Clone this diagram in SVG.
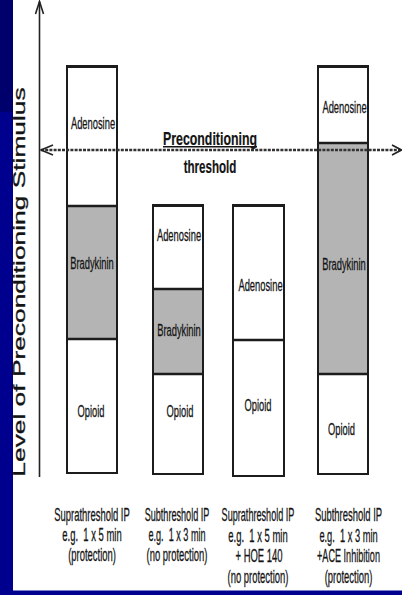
<svg xmlns="http://www.w3.org/2000/svg" width="402" height="595" viewBox="0 0 402 595">
<defs>
<style>
.t{font-family:"Liberation Sans",Arial,Helvetica,sans-serif;fill:#141414;stroke:#141414;stroke-width:0.3;text-anchor:middle}
.l{font-size:17px}
.c{font-size:17.5px}
.h{font-size:19px;font-weight:bold;stroke-width:0.2}
.box{fill:none;stroke:#1c1c1c;stroke-width:2}
.top{stroke:#1c1c1c;stroke-width:3}
.dv{stroke:#1c1c1c;stroke-width:2.4}
.g{fill:#b4b4b4}
.ax{stroke:#222;stroke-width:1.6;fill:none}
</style>
</defs>
<rect width="402" height="595" fill="#fff"/>
<g id="frame">
<rect x="0" y="0" width="13" height="112" fill="#00006c"/>
<rect x="0" y="112" width="13" height="483" fill="#00008e"/>
<rect x="0" y="590.5" width="402" height="4.5" fill="#00008e"/>
</g>
<g id="axis-label">
<text class="t" font-size="17" transform="translate(25,282) rotate(-90) scale(1.55,1)">Level of Preconditioning Stimulus</text>
</g>
<g id="col1">
<rect class="g" x="67" y="206" width="50" height="133"/>
<rect class="box" x="67" y="66" width="50" height="407"/>
<line class="top" x1="66" y1="66.5" x2="118" y2="66.5"/>
<line class="dv" x1="67" y1="206" x2="117" y2="206"/>
<line class="dv" x1="67" y1="339" x2="117" y2="339"/>
<text class="t l" transform="translate(93,129) scale(0.55,1)">Adenosine</text>
<text class="t l" transform="translate(92,269) scale(0.55,1)">Bradykinin</text>
<text class="t l" transform="translate(91,417) scale(0.55,1)">Opioid</text>
<text class="t c" transform="translate(92,520.5) scale(0.54,1)">Suprathreshold IP</text>
<text class="t c" transform="translate(92,540.5) scale(0.54,1)">e.g.&#160; 1 x 5 min</text>
<text class="t c" transform="translate(92,560.5) scale(0.54,1)">(protection)</text>
</g>
<g id="col2">
<rect class="g" x="153" y="289" width="50" height="85"/>
<rect class="box" x="153" y="205" width="50" height="269"/>
<line class="top" x1="152" y1="205.5" x2="204" y2="205.5"/>
<line class="dv" x1="153" y1="289" x2="203" y2="289"/>
<line class="dv" x1="153" y1="374" x2="203" y2="374"/>
<text class="t l" transform="translate(179,241) scale(0.55,1)">Adenosine</text>
<text class="t l" transform="translate(179,336) scale(0.55,1)">Bradykinin</text>
<text class="t l" transform="translate(180,417) scale(0.55,1)">Opioid</text>
<text class="t c" transform="translate(177,520.5) scale(0.52,1)">Subthreshold IP</text>
<text class="t c" transform="translate(177,540.5) scale(0.52,1)">e.g.&#160; 1 x 3 min</text>
<text class="t c" transform="translate(177,560.5) scale(0.54,1)">(no protection)</text>
</g>
<g id="col3">
<rect class="box" x="233" y="205" width="51" height="271"/>
<line class="top" x1="232" y1="205.5" x2="285" y2="205.5"/>
<line class="dv" x1="233" y1="340" x2="284" y2="340"/>
<text class="t l" transform="translate(260.5,291) scale(0.55,1)">Adenosine</text>
<text class="t l" transform="translate(258,411) scale(0.55,1)">Opioid</text>
<text class="t c" transform="translate(258,521) scale(0.52,1)">Suprathreshold IP</text>
<text class="t c" transform="translate(258,541.5) scale(0.54,1)">e.g.&#160; 1 x 5 min</text>
<text class="t c" transform="translate(259,562) scale(0.54,1)">+ HOE 140</text>
<text class="t c" transform="translate(258,582.5) scale(0.54,1)">(no protection)</text>
</g>
<g id="col4">
<rect class="g" x="318" y="143" width="50" height="231"/>
<rect class="box" x="318" y="66" width="50" height="408"/>
<line class="top" x1="317" y1="66.5" x2="369" y2="66.5"/>
<line class="dv" x1="318" y1="143" x2="368" y2="143"/>
<line class="dv" x1="318" y1="374" x2="368" y2="374"/>
<text class="t l" transform="translate(344.5,113) scale(0.55,1)">Adenosine</text>
<text class="t l" transform="translate(344,270) scale(0.55,1)">Bradykinin</text>
<text class="t l" transform="translate(341.5,435) scale(0.55,1)">Opioid</text>
<text class="t c" transform="translate(348.5,521) scale(0.54,1)">Subthreshold IP</text>
<text class="t c" transform="translate(348.5,541.5) scale(0.53,1)">e.g.&#160; 1 x 3 min</text>
<text class="t c" transform="translate(348.5,562) scale(0.52,1)">+ACE Inhibition</text>
<text class="t c" transform="translate(348.5,582.5) scale(0.54,1)">(protection)</text>
</g>
<g id="connectors">
<line class="ax" x1="39.5" y1="1.5" x2="39.5" y2="477"/>
<polyline class="ax" points="35.5,14 39.5,1.5 43.5,14"/>
<line x1="41" y1="150" x2="400" y2="150" stroke="#333" stroke-width="2.6" stroke-dasharray="3 1.2"/>
<polyline class="ax" stroke-width="2" points="53,145 41,150 53,155"/>
<polyline class="ax" stroke-width="2" points="392,145 401.5,150 392,155"/>
</g>
<g id="threshold-label">
<text class="t h" transform="translate(210,145) scale(0.65,1)">Preconditioning</text>
<line x1="163" y1="146.8" x2="257" y2="146.8" stroke="#141414" stroke-width="1.6"/>
<text class="t h" transform="translate(210,173) scale(0.61,1)">threshold</text>
</g>
</svg>
